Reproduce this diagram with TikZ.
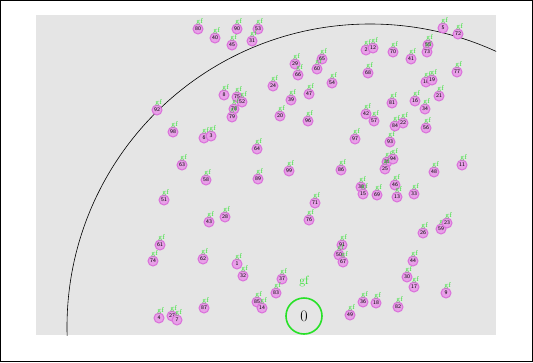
\documentclass[tikz,border=0pt]{standalone}
\usepackage{xcolor}
\usepackage{tikz}
\usetikzlibrary{positioning}

\definecolor{peerfill}{RGB}{232,160,232}
\definecolor{peerdraw}{RGB}{218,112,218}
\definecolor{gfgreen}{RGB}{40,225,40}
\definecolor{areagray}{RGB}{229,229,229}

\begin{document}
\begin{tikzpicture}[
    x=1pt, y=-1pt,
    peer/.style={circle, fill=peerfill, draw=peerdraw, line width=1pt,
        minimum size=10pt, inner sep=0pt, font=\sffamily\fontsize{5.5}{5.5}\selectfont,
        label={[gftag]above:gf}},
    gftag/.style={text=gfgreen, inner sep=0pt, xshift=1.5pt, yshift=-1.2pt,
        font=\fontsize{7}{7}\selectfont},
    source/.style={circle, draw=gfgreen, line width=1.6pt, minimum size=36pt,
        inner sep=0pt, font=\fontsize{16}{16}\selectfont}
]
    \useasboundingbox (0,0) rectangle (533,362);
    \draw[line width=1pt] (0.5,0.5) rectangle (532.5,361.5);
    % Area
    \fill[areagray] (36,15) rectangle (496,335);
    \begin{scope}
        \clip (36,15) rectangle (496,335);
        \draw[line width=0.6pt] (370,327) circle[radius=303];
    \end{scope}

    % Peers
    \foreach \lbl/\px/\py in {
        80/198/29, 40/215/38, 90/237/29, 53/258/29, 45/232/45, 31/252/41,
        2/366/50, 12/373/48, 70/393/52, 41/411/59, 5/443/28, 72/458/34,
        55/428/45, 73/427/52, 77/457/72, 10/426/82, 19/432/80, 21/439/96,
        16/415/101, 34/425/109, 56/426/128, 22/403/123, 84/395/126,
        48/434/172, 11/462/165, 24/273/86, 54/332/83, 39/291/100,
        47/309/94, 81/392/103, 29/295/64, 65/322/59, 60/317/69, 66/298/75,
        68/368/73, 92/157/110, 8/224/95, 75/237/97, 52/242/102, 78/234/109,
        79/232/117, 98/173/132, 6/204/138, 3/211/136, 64/257/149,
        63/182/165, 58/206/180, 89/258/179, 51/164/200, 20/280/116,
        96/308/121, 42/366/114, 57/374/121, 97/355/139, 93/390/142,
        99/289/171, 86/341/170, 35/387/162, 94/393/159, 25/385/169,
        46/395/185, 38/361/187, 15/363/194, 69/377/195, 13/397/197,
        33/414/194, 43/209/222, 28/225/217, 61/160/245, 74/153/261,
        62/203/259, 1/237/264, 32/243/276, 71/315/203, 76/309/220,
        91/342/245, 50/339/255, 67/343/262, 37/282/279, 83/276/293,
        30/407/277, 26/423/233, 59/441/229, 23/447/223, 44/413/261,
        17/414/287, 9/446/293, 4/159/318, 27/172/316, 7/177/320,
        87/204/308, 85/257/302, 14/262/308, 36/363/302, 18/376/303,
        49/350/315, 82/398/307}
        \node[peer] (p\lbl) at (\px,\py) {\lbl};

    % Source
    \node[source] (p0) at (304,316) {0};
    \node[text=gfgreen, font=\fontsize{12}{12}\selectfont, above=7pt of p0] (gf0) {gf};
\end{tikzpicture}
\end{document}
